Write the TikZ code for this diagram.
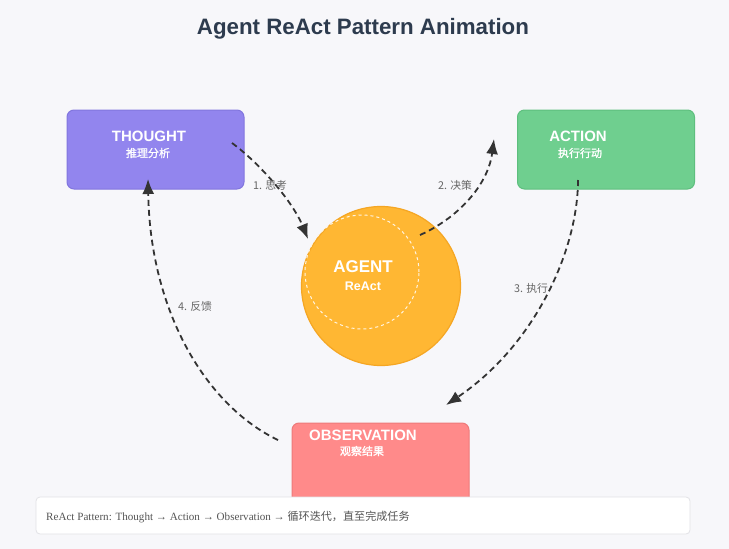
\documentclass[tikz,border=0pt]{standalone}
\usepackage{fontspec}
\setmainfont{Liberation Sans}
\newfontfamily\cjk{Noto Sans CJK SC}
\newfontfamily\cjkb[FakeBold=1.5]{Noto Sans CJK SC}
\newfontfamily\serifl{Liberation Serif}
\usetikzlibrary{arrows.meta,calc}
\definecolor{bg}{HTML}{F7F7FA}
\definecolor{titlec}{HTML}{2D3B4E}
\definecolor{thoughtc}{HTML}{9285EE}
\definecolor{thoughtb}{HTML}{8276DE}
\definecolor{actionc}{HTML}{6FCF8F}
\definecolor{actionb}{HTML}{5EBF7E}
\definecolor{obsc}{HTML}{FF8A8A}
\definecolor{obsb}{HTML}{EE7A7A}
\definecolor{agentc}{HTML}{FFB733}
\definecolor{agentb}{HTML}{F5A623}
\definecolor{arrowc}{HTML}{333333}
\definecolor{labelc}{HTML}{666666}
\definecolor{barb}{HTML}{E2E2E6}
\definecolor{bartext}{HTML}{555555}
\tikzset{
  box/.style={draw, line width=1pt, rounded corners=7pt, minimum width=177pt, minimum height=79pt, inner sep=0pt},
  headtxt/.style={text=white, font=\bfseries\fontsize{15}{17}\selectfont, inner sep=0pt},
  subtxt/.style={text=white, font=\cjkb\fontsize{11}{13}\selectfont, inner sep=0pt},
  flow/.style={draw=arrowc, line width=1.8pt, dash pattern=on 6pt off 4pt, -{Latex[length=15pt,width=12pt]}},
  lbl/.style={text=labelc, font=\cjk\fontsize{10.8}{12}\selectfont, inner sep=0pt, anchor=west}
}
\begin{document}
\begin{tikzpicture}[x=1pt,y=-1pt]
\fill[bg] (0,0) rectangle (729,549);
\useasboundingbox (0,0) rectangle (729,549);

\node[text=titlec, font=\bfseries\fontsize{22.3}{26}\selectfont] (title) at (363,29) {Agent ReAct Pattern Animation};

% boxes
\node[box, draw=thoughtb, fill=thoughtc] (thought) at (155.5,149.5) {};
\node[headtxt] (thoughtT) at (149,136) {THOUGHT};
\node[subtxt] (thoughtS) at (148,153) {推理分析};

\node[box, draw=actionb, fill=actionc] (action) at (606,149.5) {};
\node[headtxt] (actionT) at (578,136) {ACTION};
\node[subtxt] (actionS) at (580,153) {执行行动};

\node[box, draw=obsb, fill=obsc, minimum height=82pt] (obs) at (380.5,464) {};
\node[headtxt] (obsT) at (363,435) {OBSERVATION};
\node[subtxt] (obsS) at (362,451) {观察结果};

% agent
\node[circle, draw=agentb, line width=1.2pt, fill=agentc, minimum size=159pt, inner sep=0pt] (agent) at (381,286) {};
\node[circle, draw=white!85!agentc, dashed, line width=1pt, minimum size=114pt, inner sep=0pt] (agentin) at (362,272) {};
\node[text=white, font=\bfseries\fontsize{17}{20}\selectfont, inner sep=0pt] (agentT) at (363,267) {AGENT};
\node[text=white, font=\bfseries\fontsize{12.5}{15}\selectfont, inner sep=0pt] (agentS) at (363,286) {ReAct};

% connector end points
\coordinate (s1) at (232,143);
\coordinate (e1) at (308,239);
\coordinate (s2) at (420,235);
\coordinate (e2) at (494,139);
\coordinate (s3) at (578,180);
\coordinate (e3) at (446,405);
\coordinate (s4) at (278,440);
\coordinate (e4) at (148,179);

\draw[flow] (s1) .. controls (258,162) and (292,200) .. (e1);
\draw[flow] (s2) .. controls (458,218) and (488,185) .. (e2);
\draw[flow] (s3) .. controls (578,250) and (535,345) .. (e3);
\draw[flow] (s4) .. controls (205,405) and (150,310) .. (e4);

\node[lbl] (l1) at (253,185) {1. 思考};
\node[lbl] (l2) at (438,185) {2. 决策};
\node[lbl] (l3) at (514,288) {3. 执行};
\node[lbl] (l4) at (178,306) {4. 反馈};

% bottom bar
\node[draw=barb, fill=white, line width=0.8pt, rounded corners=4pt, minimum width=654pt, minimum height=37pt, inner sep=0pt] (bar) at (363,515.5) {};
\node[anchor=west, text=bartext, inner sep=0pt, font=\fontsize{11.1}{13}\selectfont] (bartxt) at (46,517) {{\serifl ReAct Pattern: Thought → Action → Observation → }{\cjk 循环迭代，直至完成任务}};
\end{tikzpicture}
\end{document}
